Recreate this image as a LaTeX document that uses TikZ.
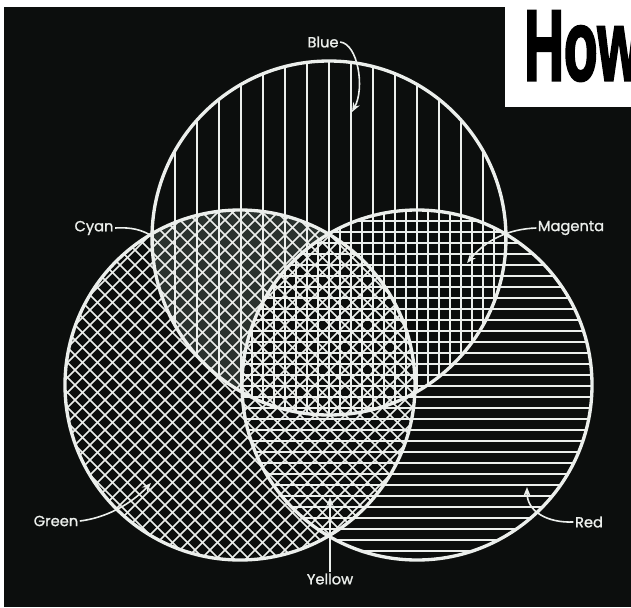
\documentclass[tikz,border=0pt]{standalone}
\usepackage{fontspec}
\usepackage{graphicx}
\setmainfont{Poppins}
\newfontfamily\lblfont[FakeBold=1.2]{Poppins}
\newfontfamily\howfont[FakeBold=3]{Liberation Sans}
\usetikzlibrary{arrows.meta}
\definecolor{bg}{HTML}{0C0E0D}
\definecolor{ink}{HTML}{ECEFEC}
\definecolor{cyanshade}{HTML}{2A322E}
\tikzset{
  hatch/.style={draw=ink, line width=1.3pt},
  rim/.style={draw=ink, line width=2.5pt},
  lbl/.style={text=ink, font=\lblfont\fontsize{11}{13}\selectfont, inner sep=1pt},
  leader/.style={draw=ink, line width=1.2pt},
  tipped/.style={-{Stealth[length=7pt,width=5.5pt]}}
}
\begin{document}
\begin{tikzpicture}[x=0.75pt,y=-0.75pt]
\useasboundingbox (0,0) rectangle (631,607);
\fill[white] (0,0) rectangle (631,607);
\fill[bg] (4,7) rectangle (631,607);

\coordinate (cB) at (329,238);
\coordinate (cG) at (240,385);
\coordinate (cR) at (417,385);

% cyan shading
\begin{scope}
  \clip (cB) circle[radius=177];
  \clip (cG) circle[radius=175];
  \fill[cyanshade, even odd rule] (0,0) rectangle (631,607) (cR) circle[radius=175];
\end{scope}

% blue verticals
\begin{scope}
  \clip (cB) circle[radius=177];
  \foreach \i in {-8,...,8} \draw[hatch] ({329+22*\i},55) -- ({329+22*\i},420);
  \clip (cR) circle[radius=175];
  \foreach \i in {-9,...,8} \draw[hatch] ({340+22*\i},55) -- ({340+22*\i},420);
\end{scope}

% red horizontals
\begin{scope}
  \clip (cR) circle[radius=175];
  \foreach \j in {-8,...,26} \draw[hatch] (235,{287+11*\j}) -- (600,{287+11*\j});
\end{scope}

% green diagonals
\begin{scope}
  \clip (cG) circle[radius=175];
  \foreach \k in {-24,...,24} {
    \draw[hatch] (60,{205-15*\k}) -- (420,{565-15*\k});
    \draw[hatch] (60,{565+15*\k}) -- (420,{205+15*\k});
  }
\end{scope}

% rims
\draw[rim] (cB) circle[radius=177];
\draw[rim] (cG) circle[radius=175];
\draw[rim] (cR) circle[radius=175];

% title box
\fill[white] (505,0) rectangle (631,107);
\node[anchor=base west, inner sep=0pt, text=black, font=\howfont\bfseries\fontsize{75}{75}\selectfont] (how) at (524,80) {\scalebox{0.55}[1]{How}};

% labels and leaders
\node[lbl] (blue) at (323,42) {Blue};
\coordinate (bluetip) at (352,112);
\draw[leader,tipped] (blue.east) .. controls (358,44) and (365,88) .. (bluetip);

\node[lbl] (cyan) at (94,228) {Cyan};
\coordinate (cyanend) at (152,236);
\draw[leader] (cyan.east) .. controls (132,227) and (142,230) .. (cyanend);

\node[lbl] (magenta) at (571,228) {Magenta};
\coordinate (magtip) at (467,263);
\draw[leader,tipped] (magenta.west) .. controls (508,229) and (486,240) .. (magtip);

\node[lbl] (green) at (56,521) {Green};
\coordinate (greentip) at (151,483);
\draw[leader,tipped] (green.east) .. controls (105,518) and (130,505) .. (greentip);

\node[lbl] (red) at (589,522) {Red};
\coordinate (redtip) at (527,487);
\draw[leader,tipped] (red.west) .. controls (548,523) and (527,512) .. (redtip);

\node[lbl] (yellow) at (330,579) {Yellow};
\coordinate (yellowtip) at (330,497);
\draw[leader,tipped] (yellow.north) -- (yellowtip);
\end{tikzpicture}
\end{document}
